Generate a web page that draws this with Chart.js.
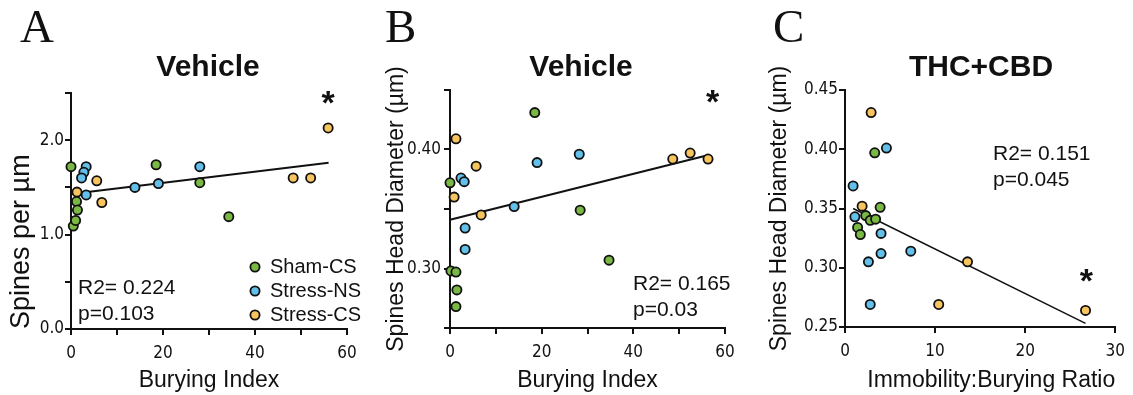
<!DOCTYPE html>
<html>
<head>
<meta charset="utf-8">
<title>Spines vs burying</title>
<script src="https://cdn.jsdelivr.net/npm/chart.js@4.4.1/dist/chart.umd.min.js"></script>
<style>
  html, body { margin: 0; padding: 0; background: #fff; }
  #figure { position: relative; width: 1133px; height: 395px; overflow: hidden; }
  #figure canvas { position: absolute; top: 0; }
</style>
</head>
<body>
<div id="figure">
  <canvas id="panel-a" width="378" height="395" style="left:0"></canvas>
  <canvas id="panel-b" width="378" height="395" style="left:378px"></canvas>
  <canvas id="panel-c" width="377" height="395" style="left:756px"></canvas>
</div>
<script>
// Groups (same order in every panel)
const groupNames = ['Sham-CS', 'Stress-NS', 'Stress-CS'];
const groupColors = ['#79b843', '#62c0ea', '#f8c45e'];

// Panel A - spines per µm vs burying index (Vehicle)
const aShamX = [0, 0.5, 1.0, 1.2, 1.4, 18.5, 28, 34.3];
const aShamY = [1.72, 1.09, 1.15, 1.35, 1.26, 1.74, 1.55, 1.19];
const aNsX = [3.3, 2.8, 2.3, 3.3, 13.9, 19, 28];
const aNsY = [1.72, 1.66, 1.60, 1.42, 1.50, 1.54, 1.72];
const aCsX = [5.6, 1.3, 6.7, 48.3, 52.1, 55.9];
const aCsY = [1.57, 1.45, 1.34, 1.60, 1.60, 2.13];
const aFitX = [0, 56];
const aFitY = [1.43, 1.76];

// Panel B - spine head diameter vs burying index (Vehicle)
const bShamX = [0, 18.5, 28.4, 34.7, 0.2, 1.3, 1.5, 1.3];
const bShamY = [0.372, 0.431, 0.349, 0.307, 0.298, 0.297, 0.282, 0.268];
const bNsX = [2.4, 3.1, 3.3, 3.3, 14, 19, 28.2];
const bNsY = [0.376, 0.373, 0.334, 0.316, 0.352, 0.389, 0.396];
const bCsX = [1.3, 5.7, 0.9, 6.8, 48.6, 52.4, 56.3];
const bCsY = [0.409, 0.386, 0.360, 0.345, 0.392, 0.397, 0.392];
const bFitX = [0, 56];
const bFitY = [0.341, 0.395];

// Panel C - spine head diameter vs immobility:burying ratio (THC+CBD)
const cShamX = [3.3, 3.9, 2.3, 2.8, 3.4, 1.4, 1.7];
const cShamY = [0.397, 0.351, 0.344, 0.340, 0.341, 0.334, 0.328];
const cNsX = [4.6, 0.9, 1.1, 4.0, 7.3, 4.0, 2.6, 2.8];
const cNsY = [0.401, 0.369, 0.343, 0.329, 0.314, 0.312, 0.305, 0.269];
const cCsX = [2.9, 1.9, 10.4, 13.6, 26.7];
const cCsY = [0.431, 0.352, 0.269, 0.305, 0.264];
const cFitX = [0.9, 26.7];
const cFitY = [0.350, 0.253];

// Tick values shown with labels
const aXLabels = [0, 20, 40, 60];
const aYLabels = [0, 1, 2];
const bXLabels = [0, 20, 40, 60];
const bYLabels = [0.30, 0.40];
const cXLabels = [0, 10, 20, 30];
const cYLabels = [0.25, 0.30, 0.35, 0.40, 0.45];

const ink = '#111';
const sansFamily = '"Liberation Sans", Arial, Helvetica, sans-serif';
const tickFont = { family: '"Liberation Sans Narrow", "DejaVu Sans Condensed", "Liberation Sans", sans-serif', size: 17 };

Chart.defaults.font.family = sansFamily;
Chart.defaults.color = ink;

function toPoints(xs, ys) {
  return xs.map((x, i) => ({ x: x, y: ys[i] }));
}

function pointSet(groupIndex, xs, ys) {
  return {
    label: groupNames[groupIndex],
    data: toPoints(xs, ys),
    backgroundColor: groupColors[groupIndex],
    borderColor: ink,
    borderWidth: 1.8,
    pointRadius: 4.6,
    pointHoverRadius: 4.6,
    clip: false,
    order: 1,
  };
}

function fitLine(xs, ys, width) {
  return {
    label: 'fit',
    data: toPoints(xs, ys),
    showLine: true,
    borderColor: ink,
    borderWidth: width,
    pointRadius: 0,
    clip: false,
    order: 5,
  };
}

// label only the listed values, keep the other tick marks bare
function onlyLabels(list, decimals) {
  return (value) => {
    const hit = list.some((v) => Math.abs(v - value) < 1e-6);
    return hit ? Number(value).toFixed(decimals) : '';
  };
}

function xAxis(cfg) {
  return {
    type: 'linear',
    min: cfg.min,
    max: cfg.max,
    afterFit: (scale) => { scale.height = cfg.height; },
    ticks: {
      stepSize: cfg.step,
      autoSkip: false,
      maxRotation: 0,
      padding: 8,
      font: tickFont,
      color: ink,
      callback: onlyLabels(cfg.labels, 0),
    },
    grid: { drawOnChartArea: false, color: ink, lineWidth: 2, tickLength: 6 },
    border: { color: ink, width: 2 },
    title: {
      display: true,
      text: cfg.title,
      align: cfg.titleAlign || 'center',
      color: ink,
      font: { size: 23 },
      padding: { top: 0, bottom: 1 },
    },
  };
}

function yAxis(cfg) {
  return {
    type: 'linear',
    min: cfg.min,
    max: cfg.max,
    afterFit: (scale) => { scale.width = cfg.width; },
    ticks: {
      stepSize: cfg.step,
      autoSkip: false,
      padding: cfg.pad,
      font: tickFont,
      color: ink,
      callback: onlyLabels(cfg.labels, cfg.decimals),
    },
    grid: { drawOnChartArea: false, color: ink, lineWidth: 2, tickLength: 6 },
    border: { color: ink, width: 2 },
    title: {
      display: true,
      text: cfg.title,
      align: cfg.titleAlign || 'center',
      color: ink,
      font: { size: cfg.titleSize || 23 },
      padding: { top: cfg.titlePad, bottom: 0 },
    },
  };
}

// panel letter, bold title, stats text, asterisk and (panel A) legend
const panelText = {
  id: 'panelText',
  afterDatasetsDraw(chart, args, opts) {
    const ctx = chart.ctx;
    ctx.save();
    ctx.fillStyle = ink;

    ctx.textAlign = 'left';
    ctx.textBaseline = 'alphabetic';
    ctx.font = '47px "Liberation Serif", "Times New Roman", serif';
    ctx.fillText(opts.letter, opts.letterX, 42);

    ctx.textAlign = 'center';
    ctx.textBaseline = 'middle';
    ctx.font = 'bold 30px ' + sansFamily;
    ctx.fillText(opts.title, opts.titleX, 68);

    ctx.textAlign = 'left';
    ctx.font = '21px ' + sansFamily;
    opts.stats.forEach((line, i) => {
      ctx.fillText(line, opts.statsX, opts.statsY + i * 26);
    });

    const sx = chart.scales.x.getPixelForValue(opts.star[0]);
    const sy = chart.scales.y.getPixelForValue(opts.star[1]);
    ctx.textAlign = 'center';
    ctx.textBaseline = 'alphabetic';
    ctx.font = 'bold 34px ' + sansFamily;
    ctx.fillText('*', sx, sy + 0.57 * 34);

    if (opts.legend) {
      ctx.font = '20px ' + sansFamily;
      ctx.textAlign = 'left';
      ctx.textBaseline = 'middle';
      groupNames.forEach((name, i) => {
        const y = opts.legendY + i * 24;
        ctx.beginPath();
        ctx.arc(opts.legendX, y, 4.6, 0, Math.PI * 2);
        ctx.fillStyle = groupColors[i];
        ctx.fill();
        ctx.lineWidth = 1.8;
        ctx.strokeStyle = ink;
        ctx.stroke();
        ctx.fillStyle = ink;
        ctx.fillText(name, opts.legendX + 15, y);
      });
    }
    ctx.restore();
  },
};

function makePanel(canvasId, datasets, scales, padding, text) {
  return new Chart(document.getElementById(canvasId), {
    type: 'scatter',
    data: { datasets: datasets },
    options: {
      responsive: false,
      animation: false,
      layout: { padding: padding },
      plugins: {
        legend: { display: false },
        tooltip: { enabled: false },
        panelText: text,
      },
      scales: scales,
    },
    plugins: [panelText],
  });
}

makePanel(
  'panel-a',
  [
    fitLine(aFitX, aFitY, 2),
    pointSet(0, aShamX, aShamY),
    pointSet(1, aNsX, aNsY),
    pointSet(2, aCsX, aCsY),
  ],
  {
    x: xAxis({ min: 0, max: 60, step: 10, labels: aXLabels, height: 66, title: 'Burying Index' }),
    y: yAxis({ min: 0, max: 2.5, step: 0.5, labels: aYLabels, decimals: 1, width: 71, pad: 1,
               title: 'Spines per µm', titleSize: 27, titlePad: 5, titleAlign: 'start' }),
  },
  { top: 93, right: 31, left: 0, bottom: 0 },
  {
    letter: 'A', letterX: 20, title: 'Vehicle', titleX: 208,
    stats: ['R2= 0.224', 'p=0.103'], statsX: 78, statsY: 288,
    star: [55.9, 2.48], legend: true, legendX: 255, legendY: 267,
  }
);

makePanel(
  'panel-b',
  [
    fitLine(bFitX, bFitY, 2),
    pointSet(0, bShamX, bShamY),
    pointSet(1, bNsX, bNsY),
    pointSet(2, bCsX, bCsY),
  ],
  {
    x: xAxis({ min: 0, max: 60, step: 10, labels: bXLabels, height: 67, title: 'Burying Index' }),
    y: yAxis({ min: 0.25, max: 0.45, step: 0.05, labels: bYLabels, decimals: 2, width: 72, pad: 3,
               title: 'Spines Head Diameter (µm)', titlePad: 5 }),
  },
  { top: 90, right: 31, left: 0, bottom: 0 },
  {
    letter: 'B', letterX: 7, title: 'Vehicle', titleX: 203,
    stats: ['R2= 0.165', 'p=0.03'], statsX: 255, statsY: 284,
    star: [57.3, 0.447], legend: false,
  }
);

makePanel(
  'panel-c',
  [
    fitLine(cFitX, cFitY, 1.5),
    pointSet(0, cShamX, cShamY),
    pointSet(1, cNsX, cNsY),
    pointSet(2, cCsX, cCsY),
  ],
  {
    x: xAxis({ min: 0, max: 30, step: 10, labels: cXLabels, height: 68, title: 'Immobility:Burying Ratio', titleAlign: 'end' }),
    y: yAxis({ min: 0.25, max: 0.45, step: 0.05, labels: cYLabels, decimals: 2, width: 89, pad: 1,
               title: 'Spines Head Diameter (µm)', titlePad: 10 }),
  },
  { top: 90, right: 13, left: 0, bottom: 0 },
  {
    letter: 'C', letterX: 17, title: 'THC+CBD', titleX: 225,
    stats: ['R2= 0.151', 'p=0.045'], statsX: 237, statsY: 154,
    star: [26.8, 0.296], legend: false,
  }
);
</script>
</body>
</html>
